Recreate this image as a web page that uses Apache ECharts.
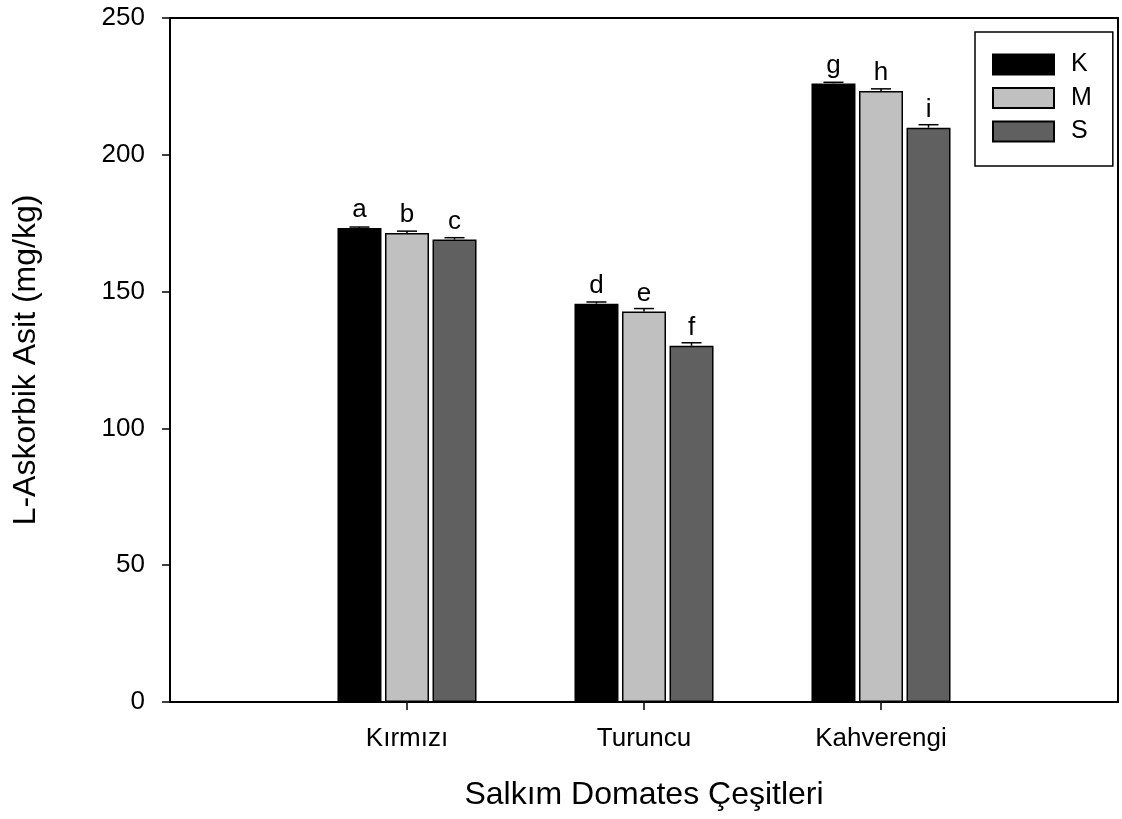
<!DOCTYPE html>
<html>
<head>
<meta charset="utf-8">
<script src="https://cdn.jsdelivr.net/npm/echarts@6/dist/echarts.min.js"></script>
<style>
  html, body { margin: 0; padding: 0; background: #fff; }
  #chart { width: 1122px; height: 819px; }
</style>
</head>
<body>
<div id="chart"></div>
<script>
// ---- Data ----
const categories = ['Kırmızı', 'Turuncu', 'Kahverengi'];
const seriesNames = ['K', 'M', 'S'];
const valuesK = [173.2, 145.6, 226.1];
const valuesM = [171.4, 142.7, 223.3];
const valuesS = [169.0, 130.2, 209.9];
const errorsK = [0.4, 0.6, 0.4];
const errorsM = [0.7, 1.1, 0.8];
const errorsS = [0.7, 1.1, 1.1];
const lettersK = ['a', 'd', 'g'];
const lettersM = ['b', 'e', 'h'];
const lettersS = ['c', 'f', 'i'];
const yTicks = [0, 50, 100, 150, 200, 250];

// ---- Build ----
const FONT = "'Liberation Sans', Arial, sans-serif";
const colors = ['#000000', '#c0c0c0', '#606060'];
const allValues = [valuesK, valuesM, valuesS];
const allErrors = [errorsK, errorsM, errorsS];
const allLetters = [lettersK, lettersM, lettersS];
const axisCats = [''].concat(categories, ['']);
const BAR_W = 44;
const BAR_GAP_PCT = 8;
const step = BAR_W * (1 + BAR_GAP_PCT / 100);

function pad(arr) { return ['-'].concat(arr, ['-']); }

const series = [];
seriesNames.forEach(function (name, k) {
  series.push({
    name: name,
    type: 'bar',
    barWidth: BAR_W,
    barGap: BAR_GAP_PCT + '%',
    data: pad(allValues[k]),
    itemStyle: { color: colors[k], borderColor: '#000', borderWidth: 1.5 },
    label: {
      show: true,
      position: 'top',
      distance: 5,
      fontFamily: FONT,
      fontSize: 26,
      color: '#000',
      formatter: function (p) { return allLetters[k][p.dataIndex - 1] || ''; }
    },
    z: 2
  });
});
seriesNames.forEach(function (name, k) {
  const d = allValues[k].map(function (v, i) { return [i + 1, v, allErrors[k][i]]; });
  series.push({
    type: 'custom',
    name: name + '_err',
    z: 3,
    silent: true,
    data: d,
    renderItem: function (params, api) {
      const x = api.value(0), v = api.value(1), e = api.value(2);
      const p0 = api.coord([x, v]);
      const p1 = api.coord([x, v + e]);
      const cx = p0[0] + (k - 1) * step;
      const cap = 10;
      return {
        type: 'group',
        children: [
          { type: 'line', shape: { x1: cx, y1: p0[1], x2: cx, y2: p1[1] }, style: { stroke: '#000', lineWidth: 1.5 } },
          { type: 'line', shape: { x1: cx - cap, y1: p1[1], x2: cx + cap, y2: p1[1] }, style: { stroke: '#000', lineWidth: 1.5 } }
        ]
      };
    }
  });
});

const chart = echarts.init(document.getElementById('chart'), null, { renderer: 'canvas' });
chart.setOption({
  animation: false,
  backgroundColor: '#fff',
  textStyle: { fontFamily: FONT },
  grid: {
    left: 170, top: 18, right: 4, bottom: 117,
    show: true, borderColor: '#000', borderWidth: 2,
    containLabel: false,
    outerBoundsMode: 'none'
  },
  legend: {
    data: seriesNames,
    orient: 'vertical',
    left: 975,
    top: 32,
    padding: [20, 21, 22, 17],
    borderColor: '#000',
    borderWidth: 1.5,
    backgroundColor: '#fff',
    itemWidth: 61,
    itemHeight: 20,
    itemGap: 8.5,
    icon: 'rect',
    textStyle: { fontFamily: FONT, fontSize: 25, color: '#000', padding: [0, 0, 0, 12] }
  },
  xAxis: {
    type: 'category',
    data: axisCats,
    boundaryGap: false,
    name: 'Salkım Domates Çeşitleri',
    nameLocation: 'middle',
    nameGap: 77,
    nameTextStyle: { fontFamily: FONT, fontSize: 32, color: '#000' },
    axisLine: { show: true, lineStyle: { color: '#000', width: 2 } },
    axisTick: {
      show: true, inside: false, length: 8, alignWithLabel: true,
      interval: function (i, v) { return v !== ''; },
      lineStyle: { color: '#000', width: 1.5 }
    },
    axisLabel: {
      interval: 0, margin: 24,
      fontFamily: FONT, fontSize: 26, color: '#000'
    },
    splitLine: { show: false }
  },
  yAxis: {
    type: 'value',
    min: yTicks[0],
    max: yTicks[yTicks.length - 1],
    interval: yTicks[1] - yTicks[0],
    name: 'L-Askorbik Asit (mg/kg)',
    nameLocation: 'middle',
    nameGap: 128,
    nameTextStyle: { fontFamily: FONT, fontSize: 32, color: '#000' },
    axisLine: { show: true, lineStyle: { color: '#000', width: 2 } },
    axisTick: { show: true, inside: false, length: 8, lineStyle: { color: '#000', width: 1.5 } },
    axisLabel: { margin: 25, fontFamily: FONT, fontSize: 26, color: '#000' },
    splitLine: { show: false }
  },
  series: series
});
</script>
</body>
</html>
